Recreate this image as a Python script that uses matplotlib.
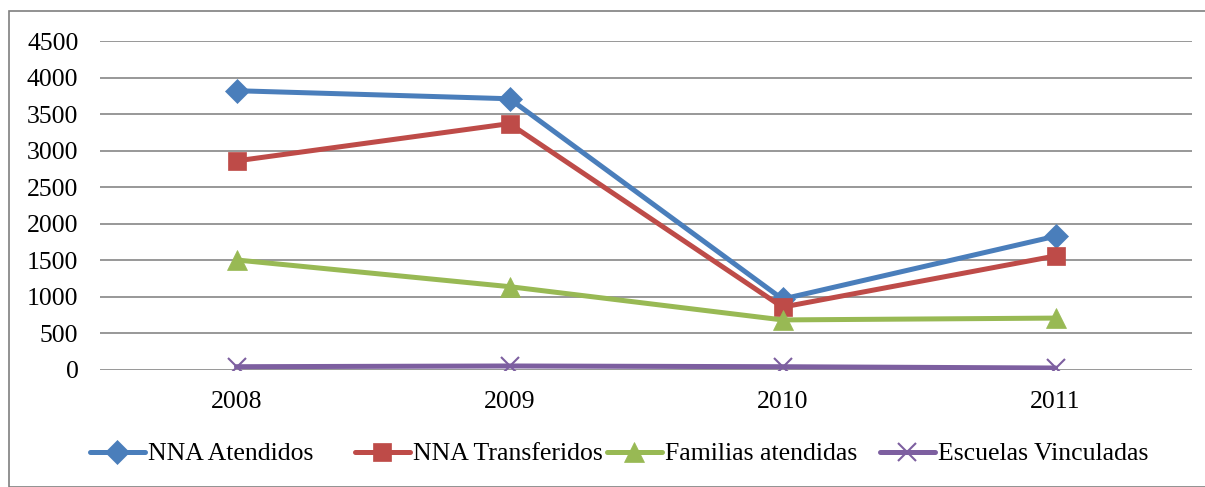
import matplotlib
matplotlib.use("Agg")
import matplotlib.pyplot as plt
from matplotlib.patches import Rectangle

years = ["2008", "2009", "2010", "2011"]
nna_atendidos = [3820, 3710, 970, 1830]
nna_transferidos = [2860, 3370, 860, 1560]
familias_atendidas = [1505, 1140, 685, 710]
escuelas_vinculadas = [45, 55, 45, 27]
yticks = [0, 500, 1000, 1500, 2000, 2500, 3000, 3500, 4000, 4500]

plt.rcParams['font.family'] = ['Liberation Serif', 'DejaVu Serif']
FS = 18.5

W, H = 1205, 487
fig = plt.figure(figsize=(W / 100, H / 100), dpi=100)
ax = fig.add_axes([100 / W, 1 - 370 / H, 1092 / W, (370 - 41) / H])

x = list(range(len(years)))
series = [
    (nna_atendidos, "NNA Atendidos", "#4A7EBB", "D", 12),
    (nna_transferidos, "NNA Transferidos", "#BE4B48", "s", 13),
    (familias_atendidas, "Familias atendidas", "#98B954", "^", 14),
    (escuelas_vinculadas, "Escuelas Vinculadas", "#7D5FA0", "x", 13),
]
lines = []
for vals, name, col, mk, ms in series:
    ln, = ax.plot(x, vals, color=col, lw=3.6, marker=mk, markersize=ms,
                  markeredgewidth=1.5 if mk == "x" else 0.5,
                  markeredgecolor=col, label=name, solid_capstyle='round')
    lines.append(ln)

ax.set_xlim(-0.5, len(years) - 0.5)
ax.set_ylim(0, 4500)
ax.set_yticks(yticks)
ax.set_yticklabels([str(v) for v in yticks])
ax.set_xticks(x)
ax.set_xticklabels(years)
ax.grid(axis='y', color='#868686', lw=1.2)
ax.set_axisbelow(True)
for s in ax.spines.values():
    s.set_visible(False)
ax.tick_params(axis='both', length=0, labelsize=FS)
ax.tick_params(axis='y', pad=15.5)
ax.tick_params(axis='x', pad=15)

leg_x = [90, 355, 607, 880]
for ln, lx in zip(lines, leg_x):
    lg = fig.legend([ln], [ln.get_label()], loc='center left',
                    bbox_to_anchor=(lx / W, 1 - 454 / H), frameon=False,
                    fontsize=FS, handlelength=2.14, handletextpad=0.12,
                    borderpad=0, borderaxespad=0)

fig.patches.append(Rectangle((8.5 / W, 0), 1.2, 1 - 11 / H, transform=fig.transFigure,
                             fill=False, edgecolor='#7f7f7f', lw=1.2))

fig.savefig("out.png", dpi=100)
